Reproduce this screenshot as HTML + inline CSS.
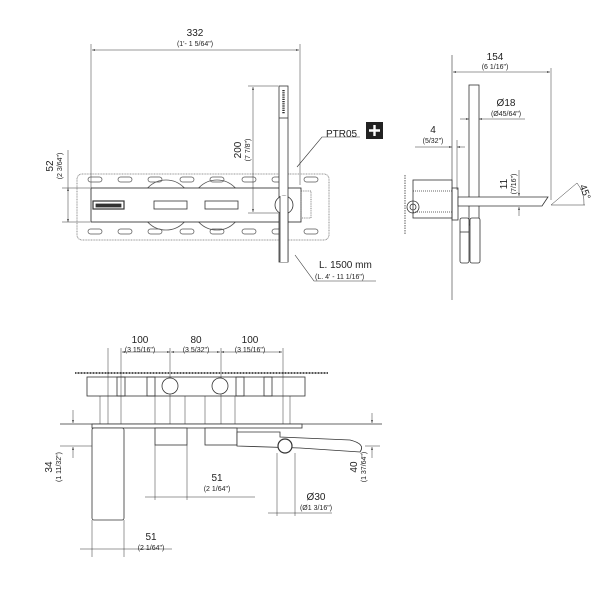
<!DOCTYPE html>
<html><head><meta charset="utf-8"><style>
html,body{margin:0;padding:0;background:#fff;}
svg{display:block;font-family:"Liberation Sans",sans-serif;}
text{fill:#222;}
.t{font-size:10px;}
.s{font-size:7px;}
</style></head><body>
<svg width="608" height="589" viewBox="0 0 608 589" xmlns="http://www.w3.org/2000/svg">
<defs>
<marker id="a" viewBox="0 0 10 10" refX="10" refY="5" markerWidth="6" markerHeight="6" orient="auto-start-reverse"><path d="M0,2 L10,5 L0,8z" fill="#333"/></marker>
</defs>
<g stroke="#333" fill="none" stroke-width="0.8">
<!-- TOP VIEW -->
<line x1="91" y1="44" x2="91" y2="190" stroke-width="0.5"/>
<line x1="300" y1="44" x2="300" y2="185" stroke-width="0.5"/>
<line x1="92" y1="50" x2="299" y2="50" marker-start="url(#a)" marker-end="url(#a)" stroke-width="0.5"/>
<rect x="77" y="174" width="252" height="66" rx="5" stroke="#777" stroke-dasharray="1 0.6"/>
<g stroke="#555" stroke-width="0.7">
<rect x="88" y="177" width="14" height="5" rx="2.5"/><rect x="118" y="177" width="14" height="5" rx="2.5"/><rect x="148" y="177" width="14" height="5" rx="2.5"/><rect x="180" y="177" width="14" height="5" rx="2.5"/><rect x="210" y="177" width="14" height="5" rx="2.5"/><rect x="242" y="177" width="14" height="5" rx="2.5"/><rect x="272" y="177" width="14" height="5" rx="2.5"/><rect x="304" y="177" width="14" height="5" rx="2.5"/>
<rect x="88" y="229" width="14" height="5" rx="2.5"/><rect x="118" y="229" width="14" height="5" rx="2.5"/><rect x="148" y="229" width="14" height="5" rx="2.5"/><rect x="180" y="229" width="14" height="5" rx="2.5"/><rect x="210" y="229" width="14" height="5" rx="2.5"/><rect x="242" y="229" width="14" height="5" rx="2.5"/><rect x="272" y="229" width="14" height="5" rx="2.5"/><rect x="304" y="229" width="14" height="5" rx="2.5"/>
</g>
<circle cx="166" cy="205" r="25" stroke="#555"/>
<circle cx="217" cy="205" r="25" stroke="#555"/>
<rect x="91" y="188" width="210" height="34" fill="#fff" stroke="#222"/>
<rect x="93" y="201" width="31" height="8" stroke-width="1.2"/>
<rect x="96" y="204" width="25" height="3" fill="#333"/>
<rect x="154" y="201" width="33" height="8"/>
<rect x="205" y="201" width="33" height="8"/>
<rect x="301" y="191" width="10" height="27" stroke="#666" stroke-dasharray="1 0.8"/>
<rect x="279" y="86" width="9" height="176" fill="#fff"/>
<line x1="279" y1="118" x2="288" y2="118"/>
<line x1="283.5" y1="90" x2="283.5" y2="114" stroke-width="2.4" stroke-dasharray="1.2 1"/>
<circle cx="284" cy="205" r="9" fill="#fff"/>
<rect x="280" y="196" width="8" height="66" fill="#fff" stroke="none"/>
<line x1="280" y1="196" x2="280" y2="262"/><line x1="288" y1="196" x2="288" y2="262"/>
<line x1="253" y1="87" x2="253" y2="212" marker-start="url(#a)" marker-end="url(#a)" stroke-width="0.5"/>
<line x1="248" y1="86" x2="278" y2="86" stroke-width="0.5"/>
<line x1="248" y1="213" x2="278" y2="213" stroke-width="0.5"/>
<line x1="68" y1="188" x2="68" y2="222" marker-start="url(#a)" marker-end="url(#a)" stroke-width="0.5"/>
<line x1="62" y1="188" x2="90" y2="188" stroke-width="0.5"/>
<line x1="62" y1="222" x2="90" y2="222" stroke-width="0.5"/>
<line x1="68" y1="150" x2="68" y2="188" stroke-width="0.5"/>
<polyline points="297,167 322,137 360,137" stroke-width="0.6"/>
<polyline points="295,255 314,281 376,281" stroke-width="0.6"/>
<!-- SIDE VIEW -->
<line x1="452" y1="55" x2="452" y2="300" stroke-width="0.6"/>
<line x1="551" y1="68" x2="551" y2="200" stroke-width="0.5"/>
<line x1="453" y1="72" x2="550" y2="72" marker-start="url(#a)" marker-end="url(#a)" stroke-width="0.5"/>
<rect x="469" y="85" width="10" height="140"/>
<line x1="460" y1="119" x2="469" y2="119" marker-end="url(#a)" stroke-width="0.5"/>
<line x1="525" y1="119" x2="479" y2="119" marker-end="url(#a)" stroke-width="0.5"/>
<line x1="415" y1="147" x2="452" y2="147" marker-end="url(#a)" stroke-width="0.5"/>
<line x1="465" y1="147" x2="457" y2="147" marker-end="url(#a)" stroke-width="0.5"/>
<line x1="457" y1="140" x2="457" y2="190" stroke-width="0.5"/>
<rect x="413" y="180" width="39" height="38" fill="#fff"/>
<line x1="413" y1="191" x2="452" y2="191" stroke-dasharray="1 1"/><line x1="413" y1="212" x2="452" y2="212" stroke-dasharray="1 1"/>
<line x1="405" y1="175" x2="405" y2="235" stroke-dasharray="1.5 1"/>
<circle cx="413" cy="207" r="6"/><circle cx="413" cy="207" r="3"/>
<rect x="452" y="188" width="6" height="32"/>
<path d="M458,197 L548,197 L542,206 L458,206 Z" fill="#fff"/>
<rect x="460" y="218" width="9" height="45" rx="2" fill="#fff"/>
<rect x="470" y="218" width="10" height="45" rx="2" fill="#fff"/>
<line x1="460" y1="232" x2="469" y2="232"/>
<line x1="519" y1="170" x2="519" y2="196" marker-end="url(#a)" stroke-width="0.5"/>
<line x1="519" y1="216" x2="519" y2="207" marker-end="url(#a)" stroke-width="0.5"/>
<line x1="551" y1="205" x2="577" y2="183" stroke-width="0.5"/>
<line x1="551" y1="205" x2="585" y2="205" stroke-width="0.5"/>
<path d="M577,183 A32,32 0 0 1 584,205" stroke-width="0.5"/>
<!-- BOTTOM VIEW -->
<line x1="122" y1="352" x2="170" y2="352" marker-start="url(#a)" marker-end="url(#a)" stroke-width="0.5"/>
<line x1="171" y1="352" x2="220" y2="352" marker-start="url(#a)" marker-end="url(#a)" stroke-width="0.5"/>
<line x1="221" y1="352" x2="282" y2="352" marker-start="url(#a)" marker-end="url(#a)" stroke-width="0.5"/>
<line x1="75" y1="373" x2="328" y2="373" stroke-width="2" stroke-dasharray="1 0.5" stroke="#555"/>
<rect x="87" y="377" width="218" height="19"/>
<g stroke-width="0.5">
<line x1="108" y1="348" x2="108" y2="425"/><line x1="121" y1="348" x2="121" y2="425"/>
<line x1="170" y1="348" x2="170" y2="425"/><line x1="221" y1="348" x2="221" y2="425"/>
<line x1="283" y1="348" x2="283" y2="425"/><line x1="290" y1="396" x2="290" y2="425"/>
<line x1="100" y1="396" x2="100" y2="425"/><line x1="155" y1="396" x2="155" y2="425"/><line x1="185" y1="396" x2="185" y2="425"/><line x1="205" y1="396" x2="205" y2="425"/><line x1="235" y1="396" x2="235" y2="425"/>
</g>
<rect x="117" y="377" width="8" height="19"/><rect x="147" y="377" width="8" height="19"/>
<rect x="236" y="377" width="8" height="19"/><rect x="264" y="377" width="8" height="19"/>
<circle cx="170" cy="386" r="8" fill="#fff"/><circle cx="220" cy="386" r="8" fill="#fff"/>
<line x1="60" y1="424" x2="382" y2="424"/>
<rect x="92" y="424" width="210" height="4" fill="#fff"/>
<rect x="92" y="428" width="32" height="92" rx="2" fill="#fff"/>
<rect x="155" y="428" width="32" height="17" fill="#fff"/>
<rect x="205" y="428" width="32" height="17" fill="#fff"/>
<path d="M237,432 L280,432 L280,437 L350,440 Q366,444 360,452 L300,448 L237,446 Z" fill="#fff"/>
<circle cx="285" cy="446" r="7" fill="#fff" stroke-width="1.2"/>
<line x1="60" y1="446" x2="92" y2="446" stroke-width="0.5"/>
<line x1="365" y1="446" x2="380" y2="446" stroke-width="0.5"/>
<line x1="73" y1="410" x2="73" y2="423" marker-end="url(#a)" stroke-width="0.5"/>
<line x1="73" y1="458" x2="73" y2="447" marker-end="url(#a)" stroke-width="0.5"/>
<line x1="372" y1="413" x2="372" y2="423" marker-end="url(#a)" stroke-width="0.5"/>
<line x1="372" y1="458" x2="372" y2="447" marker-end="url(#a)" stroke-width="0.5"/>
<line x1="155" y1="445" x2="155" y2="500" stroke-width="0.5"/><line x1="187" y1="445" x2="187" y2="500" stroke-width="0.5"/>
<line x1="145" y1="497" x2="255" y2="497" stroke-width="0.5"/>
<line x1="277" y1="453" x2="277" y2="516" stroke-width="0.5"/><line x1="295" y1="453" x2="295" y2="516" stroke-width="0.5"/>
<line x1="268" y1="513" x2="332" y2="513" stroke-width="0.5"/>
<line x1="92" y1="520" x2="92" y2="557" stroke-width="0.5"/><line x1="124" y1="520" x2="124" y2="557" stroke-width="0.5"/>
<line x1="80" y1="549" x2="172" y2="549" stroke-width="0.5"/>
</g>
<rect x="366" y="122" width="17" height="17" fill="#222"/>
<path d="M374.5,125 v11 M369,130.5 h11" stroke="#fff" stroke-width="2.4"/>
<text class="t" x="195" y="36" text-anchor="middle">332</text>
<text class="s" x="195" y="46" text-anchor="middle">(1'- 1 5/64")</text>
<text class="t" x="326" y="137">PTR05</text>
<text class="t" x="319" y="268">L. 1500 mm</text>
<text class="s" x="315" y="279">(L. 4' - 11 1/16")</text>
<text class="t" transform="translate(241,150) rotate(-90)" text-anchor="middle">200</text>
<text class="s" transform="translate(250,150) rotate(-90)" text-anchor="middle">(7 7/8")</text>
<text class="t" transform="translate(53,166) rotate(-90)" text-anchor="middle">52</text>
<text class="s" transform="translate(62,166) rotate(-90)" text-anchor="middle">(2 3/64")</text>
<text class="t" x="495" y="60" text-anchor="middle">154</text>
<text class="s" x="495" y="69" text-anchor="middle">(6 1/16")</text>
<text class="t" x="506" y="106" text-anchor="middle">Ø18</text>
<text class="s" x="506" y="116" text-anchor="middle">(Ø45/64")</text>
<text class="t" x="433" y="133" text-anchor="middle">4</text>
<text class="s" x="433" y="143" text-anchor="middle">(5/32")</text>
<text class="t" transform="translate(507,184) rotate(-90)" text-anchor="middle">11</text>
<text class="s" transform="translate(516,184) rotate(-90)" text-anchor="middle">(7/16")</text>
<text class="t" transform="translate(582,193) rotate(70)" text-anchor="middle">45°</text>
<text class="t" x="140" y="343" text-anchor="middle">100</text>
<text class="s" x="140" y="352" text-anchor="middle">(3 15/16")</text>
<text class="t" x="196" y="343" text-anchor="middle">80</text>
<text class="s" x="196" y="352" text-anchor="middle">(3 5/32")</text>
<text class="t" x="250" y="343" text-anchor="middle">100</text>
<text class="s" x="250" y="352" text-anchor="middle">(3 15/16")</text>
<text class="t" x="217" y="481" text-anchor="middle">51</text>
<text class="s" x="217" y="491" text-anchor="middle">(2 1/64")</text>
<text class="t" x="316" y="500" text-anchor="middle">Ø30</text>
<text class="s" x="316" y="510" text-anchor="middle">(Ø1 3/16")</text>
<text class="t" x="151" y="540" text-anchor="middle">51</text>
<text class="s" x="151" y="550" text-anchor="middle">(2 1/64")</text>
<text class="t" transform="translate(52,467) rotate(-90)" text-anchor="middle">34</text>
<text class="s" transform="translate(61,467) rotate(-90)" text-anchor="middle">(1 11/32")</text>
<text class="t" transform="translate(357,467) rotate(-90)" text-anchor="middle">40</text>
<text class="s" transform="translate(366,467) rotate(-90)" text-anchor="middle">(1 37/64")</text>
</svg>
</body></html>
